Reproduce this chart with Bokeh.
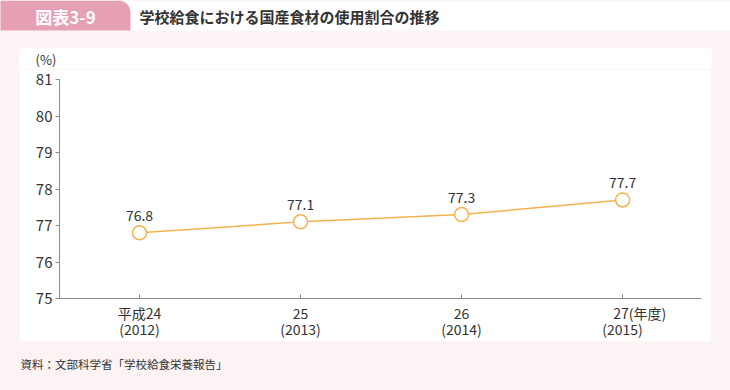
from bokeh.plotting import figure
from bokeh.models import Range1d, FixedTicker, BoxAnnotation, ColumnDataSource, Spacer
from bokeh.layouts import column, row
from bokeh.core.properties import value
from bokeh.embed import file_html
from bokeh.resources import INLINE

# ---- data ----
categories = ["平成24\n(2012)", "25\n(2013)", "26\n(2014)", "\u3000\u3000\u00a0\u00a027(年度)\n(2015)"]
values = [76.8, 77.1, 77.3, 77.7]
value_labels = ["76.8", "77.1", "77.3", "77.7"]
y_ticks = [75, 76, 77, 78, 79, 80, 81]
title_tag = "図表3-9"
title_text = "学校給食における国産食材の使用割合の推移"
unit_y = "(%)"
source_text = "資料：文部科学省「学校給食栄養報告」"

JP = "Noto Sans CJK JP"
PINK_BG = "#fcf3f4"
TAB = "#e6a0b3"
ORANGE = "#f6b14c"
TXT = "#333333"
AXIS = "#8a8a8a"

W = 730
TOP_H, MAIN_H, BOT_H = 69, 272, 49
SIDE_L, SIDE_R = 19, 19
MAIN_W = W - SIDE_L - SIDE_R


def blank(h):
    f = figure(width=W, height=h, output_backend="svg", toolbar_location=None,
               x_range=Range1d(0, W), y_range=Range1d(h, 0),
               min_border=0, min_border_left=0, min_border_right=0,
               min_border_top=0, min_border_bottom=0)
    f.axis.visible = False
    f.grid.visible = False
    f.outline_line_color = None
    f.background_fill_color = PINK_BG
    f.border_fill_color = PINK_BG
    return f


# ---- header (title band + top strip of the white panel) ----
top = blank(TOP_H)
top.add_layout(BoxAnnotation(left=0, right=W, top=0, bottom=30, fill_color="white",
                             fill_alpha=1, line_color=None, level="underlay"))
top.add_layout(BoxAnnotation(left=-20, right=130, top=0, bottom=30, fill_color=TAB,
                             fill_alpha=1, line_color=None, level="underlay",
                             border_radius=(0, 12, 0, 0)))
top.add_layout(BoxAnnotation(left=SIDE_L, right=W - SIDE_R, top=48, bottom=TOP_H + 2,
                             fill_color="white", fill_alpha=1, line_color=None,
                             level="underlay"))
top.text(x=[65], y=[15.5], text=[title_tag], text_align="center", text_baseline="middle",
         text_font=value(JP), text_font_size="17px", text_font_style="bold", text_color="white")
top.text(x=[139], y=[16], text=[title_text], text_align="left", text_baseline="middle",
         text_font=value(JP), text_font_size="15px", text_font_style="bold", text_color=TXT)
top.text(x=[45.5], y=[59], text=[unit_y], text_align="center", text_baseline="middle",
         text_font=value(JP), text_font_size="13px", text_color=TXT)

# ---- main chart ----
xs = list(range(len(values)))
p = figure(width=MAIN_W, height=MAIN_H, output_backend="svg", toolbar_location=None,
           x_range=Range1d(-0.497, 3.49), y_range=Range1d(75, 81),
           min_border_left=40, min_border_right=10,
           min_border_top=10, min_border_bottom=40)
p.border_fill_color = "white"
p.background_fill_color = "white"
p.outline_line_color = None
p.grid.visible = False

xa = p.xaxis[0]
xa.ticker = FixedTicker(ticks=xs)
xa.major_label_overrides = {i: c for i, c in enumerate(categories)}
xa.major_tick_in = 4
xa.major_tick_out = 0
xa.minor_tick_line_color = None
xa.axis_line_color = AXIS
xa.major_tick_line_color = AXIS
xa.major_label_text_font = JP
xa.major_label_text_font_size = "14px"
xa.major_label_text_color = TXT
xa.major_label_text_line_height = 0.81
xa.major_label_standoff = 4

ya = p.yaxis[0]
ya.ticker = FixedTicker(ticks=y_ticks)
ya.major_tick_in = 0
ya.major_tick_out = 4
ya.minor_tick_line_color = None
ya.axis_line_color = AXIS
ya.major_tick_line_color = AXIS
ya.major_label_text_font = JP
ya.major_label_text_font_size = "15px"
ya.major_label_text_color = TXT
ya.major_label_standoff = 3

src = ColumnDataSource(dict(x=xs, y=values, t=value_labels))
p.line("x", "y", source=src, line_color=ORANGE, line_width=1.5)
p.scatter("x", "y", source=src, size=14, fill_color="white", line_color=ORANGE, line_width=1.5)
p.text("x", "y", text="t", source=src, text_align="center", text_baseline="middle",
       y_offset=-17, text_font=value(JP), text_font_size="14px", text_color=TXT)

# ---- footer ----
bot = blank(BOT_H)
bot.text(x=[20], y=[22], text=[source_text], text_align="left", text_baseline="middle",
         text_font=value(JP), text_font_size="11.5px", text_color=TXT)

side_l = Spacer(width=SIDE_L, height=MAIN_H, styles={"background-color": PINK_BG})
side_r = Spacer(width=SIDE_R, height=MAIN_H, styles={"background-color": PINK_BG})

layout = column(top, row(side_l, p, side_r, spacing=0), bot, spacing=0,
                styles={"background-color": PINK_BG})

html = file_html(layout, INLINE)
open("out.html", "w").write(html)
